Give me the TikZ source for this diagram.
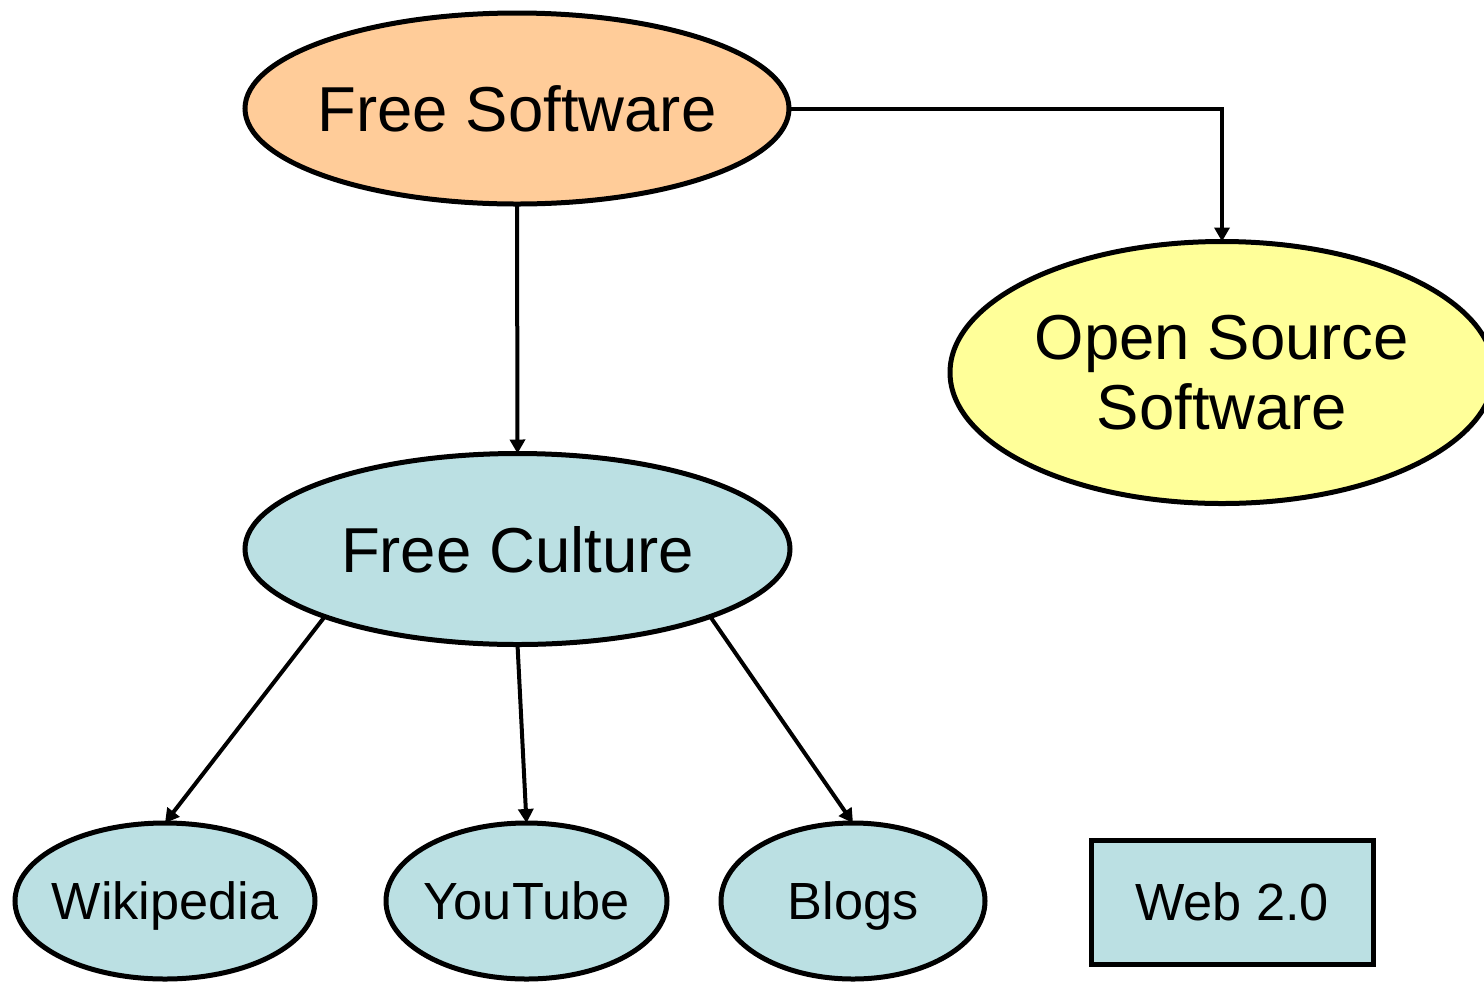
\documentclass[tikz,border=0pt]{standalone}
\usepackage{fontspec}
\setmainfont{Liberation Sans}
\usetikzlibrary{shapes.geometric,arrows.meta}
\definecolor{fsorange}{HTML}{FFCC99}
\definecolor{ossyellow}{HTML}{FFFF99}
\definecolor{fcblue}{HTML}{BBE0E3}
\newcommand{\zw}[1]{\makebox[0pt]{#1}}
\begin{document}
\begin{tikzpicture}[x=0.5pt,y=-0.5pt,
  oval/.style={ellipse,draw=black,line width=2.5pt,inner sep=0pt,outer sep=0pt},
  bigtext/.style={font=\fontsize{31.75pt}{35pt}\selectfont,align=center},
  smalltext/.style={font=\fontsize{26.15pt}{29pt}\selectfont,text depth=0pt},
  link/.style={line width=2pt,-{Triangle[length=7pt,width=7.5pt]}}]
\useasboundingbox (0,0) rectangle (1484,981);
\clip (0,0) rectangle (1484,981);
\node[oval,fill=fsorange,bigtext,text depth=0pt,minimum width=272pt,minimum height=95.5pt] (fs) at (517,108.5) {\zw{Free Software}};
\node[oval,fill=ossyellow,bigtext,minimum width=272pt,minimum height=131pt] (oss) at (1222,372.5) {\zw{Open Source}\\\zw{Software}};
\node[oval,fill=fcblue,bigtext,text depth=0pt,minimum width=272.5pt,minimum height=95.5pt] (fc) at (517.5,549) {\zw{Free Culture}};
\node[oval,fill=fcblue,smalltext,minimum width=150pt,minimum height=78pt] (wiki) at (165,901) {\zw{Wikipedia}};
\node[oval,fill=fcblue,smalltext,minimum width=140.5pt,minimum height=78pt] (yt) at (526.5,901) {\zw{YouTube}};
\node[oval,fill=fcblue,smalltext,minimum width=132pt,minimum height=78pt] (blogs) at (853,901) {\zw{Blogs}};
\node[draw=black,line width=2.5pt,fill=fcblue,smalltext,minimum width=141pt,minimum height=62pt,inner sep=0pt,outer sep=0pt] (web) at (1232,902) {\zw{Web 2.0}};
\draw[link] (fs.east) -| (oss.north);
\draw[link] (fs.south) -- (fc.north);
\draw[link] (fc.south west) -- (wiki.north);
\draw[link] (fc.south) -- (yt.north);
\draw[link] (fc.south east) -- (blogs.north);
\end{tikzpicture}
\end{document}
